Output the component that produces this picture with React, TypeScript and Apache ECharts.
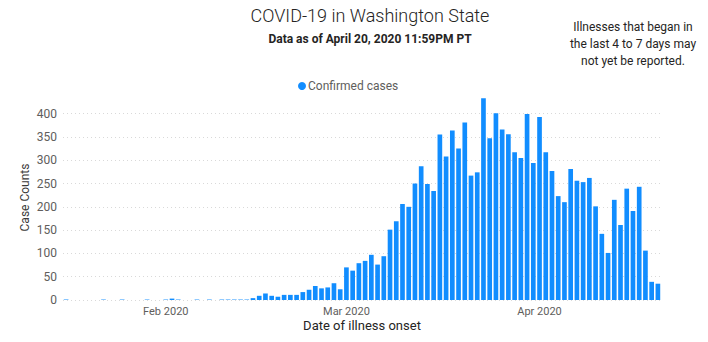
import React, { useEffect, useRef } from "react";
import * as echarts from "echarts";

// Daily confirmed cases by date of illness onset
const janStartDay = 16; // data starts on Jan 16, 2020
const janCases = [1, 0, 0, 0, 0, 0, 1, 0, 0, 1, 0, 0, 0, 1, 0, 0]; // Jan 16–31
const febCases = [
  1, 3, 1, 0, 0, 1, 0, 1, 0, 1, 1, 1, 1, 1, 4, 9, 14, 9, 7, 11, 11, 11, 17, 22,
  30, 25, 27, 36, 23,
]; // Feb 1–29
const marCases = [
  70, 63, 79, 84, 97, 76, 94, 151, 169, 206, 200, 250, 287, 249, 234, 355, 308,
  364, 325, 381, 267, 274, 433, 347, 401, 366, 356, 317, 305, 399, 294,
]; // Mar 1–31
const aprCases = [
  393, 317, 277, 223, 210, 281, 256, 253, 262, 201, 142, 101, 215, 161, 239,
  191, 243, 106, 39, 35,
]; // Apr 1–20

const monthTickLabels: Record<string, string> = {
  "02": "Feb 2020",
  "03": "Mar 2020",
  "04": "Apr 2020",
};
const yTicks = [0, 50, 100, 150, 200, 250, 300, 350, 400];

const titleText = "COVID-19 in Washington State";
const subtitleText = "Data as of April 20, 2020 11:59PM PT";
const noteLines = [
  "Illnesses that began in",
  "the last 4 to 7 days may",
  "not yet be reported.",
];
const seriesName = "Confirmed cases";

function pad(n: number) {
  return n < 10 ? "0" + n : "" + n;
}

const categories: string[] = [];
const values: number[] = [];
janCases.forEach((v, i) => {
  categories.push(`2020-01-${pad(janStartDay + i)}`);
  values.push(v);
});
febCases.forEach((v, i) => {
  categories.push(`2020-02-${pad(i + 1)}`);
  values.push(v);
});
marCases.forEach((v, i) => {
  categories.push(`2020-03-${pad(i + 1)}`);
  values.push(v);
});
aprCases.forEach((v, i) => {
  categories.push(`2020-04-${pad(i + 1)}`);
  values.push(v);
});

const FONT = "Roboto, 'Noto Sans', sans-serif";

export default function App() {
  const ref = useRef<HTMLDivElement>(null);
  useEffect(() => {
    if (!ref.current) return;
    const chart = echarts.init(ref.current, null, { renderer: "svg" });
    chart.setOption({
      animation: false,
      textStyle: { fontFamily: FONT },
      legend: {
        data: [seriesName],
        left: 293,
        top: 75,
        icon: "circle",
        itemWidth: 8,
        itemHeight: 8,
        itemGap: 4,
        textStyle: { color: "#605E5C", fontSize: 12, fontFamily: FONT, padding: [0, 0, 0, -3] },
      },
      graphic: [
        {
          type: "text",
          x: 370,
          y: 15,
          style: {
            text: titleText,
            fill: "#252423",
            font: `300 18px ${FONT}`,
            textAlign: "center",
            textVerticalAlign: "middle",
          },
        },
        {
          type: "text",
          x: 370,
          y: 39,
          style: {
            text: subtitleText,
            fill: "#252423",
            font: `bold 12px ${FONT}`,
            textAlign: "center",
            textVerticalAlign: "middle",
          },
        },
        ...noteLines.map((t, i) => ({
          type: "text",
          x: 633,
          y: 27 + i * 17,
          style: {
            text: t,
            fill: "#252423",
            font: `12px ${FONT}`,
            textAlign: "center",
            textVerticalAlign: "middle",
          },
        })),
      ],
      grid: {
        left: 63,
        right: 47,
        top: 95,
        bottom: 42,
        containLabel: false,
        outerBoundsMode: "none",
      },
      xAxis: {
        type: "category",
        data: categories,
        boundaryGap: true,
        name: "Date of illness onset",
        nameLocation: "middle",
        nameGap: 19,
        nameMoveOverlap: false,
        nameTextStyle: { color: "#252423", fontSize: 13, fontFamily: FONT },
        axisLine: { show: false },
        axisTick: { show: false },
        axisLabel: {
          interval: (idx: number, val: string) =>
            val.slice(8) === "01" && monthTickLabels[val.slice(5, 7)] !== undefined,
          formatter: (val: string) => monthTickLabels[val.slice(5, 7)] || "",
          color: "#605E5C",
          fontSize: 11,
          margin: 6,
          fontFamily: FONT,
        },
        splitLine: { show: false },
      },
      yAxis: {
        type: "value",
        min: 0,
        max: 440,
        interval: 50,
        name: "Case Counts",
        nameLocation: "middle",
        nameGap: 32,
        nameMoveOverlap: false,
        nameRotate: 90,
        nameTextStyle: { color: "#3B3A39", fontSize: 12, fontFamily: FONT },
        axisLine: { show: false },
        axisTick: { show: false },
        axisLabel: {
          formatter: (v: number) => (yTicks.indexOf(v) >= 0 ? String(v) : ""),
          showMaxLabel: false,
          color: "#605E5C",
          fontSize: 12,
          margin: 6,
          fontFamily: FONT,
        },
        splitLine: {
          show: true,
          showMaxLine: false,
          lineStyle: { color: "#D9D9D9", type: [1, 3], width: 1 },
        },
      },
      series: [
        {
          name: seriesName,
          type: "bar",
          data: values,
          barCategoryGap: "25%",
          itemStyle: { color: "#118DFF" },
        },
      ],
    });
    return () => chart.dispose();
  }, []);
  return (
    <div
      ref={ref}
      style={{ position: "absolute", left: 0, top: 0, width: 708, height: 342, background: "#fff" }}
    />
  );
}
